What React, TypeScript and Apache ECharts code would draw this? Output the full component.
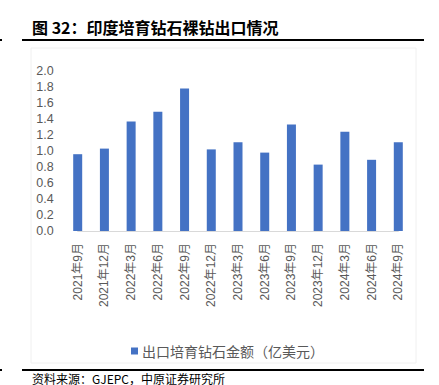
import React, { useEffect, useRef } from "react";
import * as echarts from "echarts";

const categories = [
  "2021年9月", "2021年12月", "2022年3月", "2022年6月", "2022年9月",
  "2022年12月", "2023年3月", "2023年6月", "2023年9月", "2023年12月",
  "2024年3月", "2024年6月", "2024年9月",
];
const exportValues = [0.96, 1.03, 1.37, 1.49, 1.78, 1.02, 1.11, 0.98, 1.33, 0.83, 1.24, 0.89, 1.11];
const seriesName = "出口培育钻石金额（亿美元）";
const titleText = "图 32：印度培育钻石裸钻出口情况";
const sourceText = "资料来源：GJEPC，中原证券研究所";

export default function App() {
  const ref = useRef<HTMLDivElement>(null);
  useEffect(() => {
    if (!ref.current) return;
    const chart = echarts.init(ref.current, null, { renderer: "svg" });
    chart.setOption({
      animation: false,
      backgroundColor: "#ffffff",
      textStyle: { fontFamily: "Liberation Sans, Noto Sans CJK SC, sans-serif" },
      graphic: [
        { type: "rect", shape: { x: 31, y: 48, width: 385, height: 315 }, style: { fill: "none", stroke: "#f0f0f0", lineWidth: 1 }, silent: true },
        {
          type: "text", x: 32, y: 27,
          style: { text: titleText, fontSize: 16, fontWeight: "bold", fill: "#000", fontFamily: "Noto Sans CJK SC, sans-serif", verticalAlign: "middle" },
        },
        { type: "line", shape: { x1: 22, y1: 40, x2: 424, y2: 40 }, style: { stroke: "#000", lineWidth: 2 } },
        { type: "rect", shape: { x: 0, y: 39, width: 2, height: 2 }, style: { fill: "#000" } },
        { type: "line", shape: { x1: 22, y1: 370, x2: 424, y2: 370 }, style: { stroke: "#000", lineWidth: 2 } },
        { type: "rect", shape: { x: 0, y: 369, width: 2, height: 2 }, style: { fill: "#000" } },
        {
          type: "text", x: 32, y: 378,
          style: { text: sourceText, fontSize: 12, fill: "#000", fontFamily: "Noto Sans CJK SC, sans-serif", verticalAlign: "middle" },
        },
      ],
      grid: { left: 77.7, right: 439 - 398.3, top: 71, bottom: 385 - 231, containLabel: false },
      legend: {
        show: true,
        left: 126,
        top: 339,
        icon: "rect",
        itemWidth: 7,
        itemHeight: 7,
        itemGap: 4,
        textStyle: { color: "#595959", fontSize: 14, fontFamily: "Noto Sans CJK SC, sans-serif", padding: [0, 0, 0, -1] },
        data: [seriesName],
      },
      xAxis: {
        type: "category",
        data: categories,
        boundaryGap: false,
        axisLine: { show: true, lineStyle: { color: "#d9d9d9", width: 1 } },
        axisTick: { show: false },
        axisLabel: {
          rotate: 90,
          interval: 0,
          margin: 12,
          color: "#595959",
          fontSize: 12,
          fontFamily: "Liberation Sans, Noto Sans CJK SC, sans-serif",
        },
        splitLine: { show: false },
      },
      yAxis: {
        type: "value",
        min: 0,
        max: 2,
        interval: 0.2,
        axisLine: { show: false },
        axisTick: { show: false },
        splitLine: { show: false },
        axisLabel: {
          margin: 24,
          color: "#595959",
          fontSize: 12.5,
          formatter: (v: number) => v.toFixed(1),
        },
      },
      series: [
        {
          name: seriesName,
          type: "bar",
          data: exportValues,
          barWidth: 9,
          clip: false,
          itemStyle: { color: "#4472C4" },
        },
      ],
    });
    return () => chart.dispose();
  }, []);
  return (
    <div
      ref={ref}
      style={{ position: "fixed", left: 0, top: 0, width: 439, height: 385, background: "#fff" }}
    />
  );
}
